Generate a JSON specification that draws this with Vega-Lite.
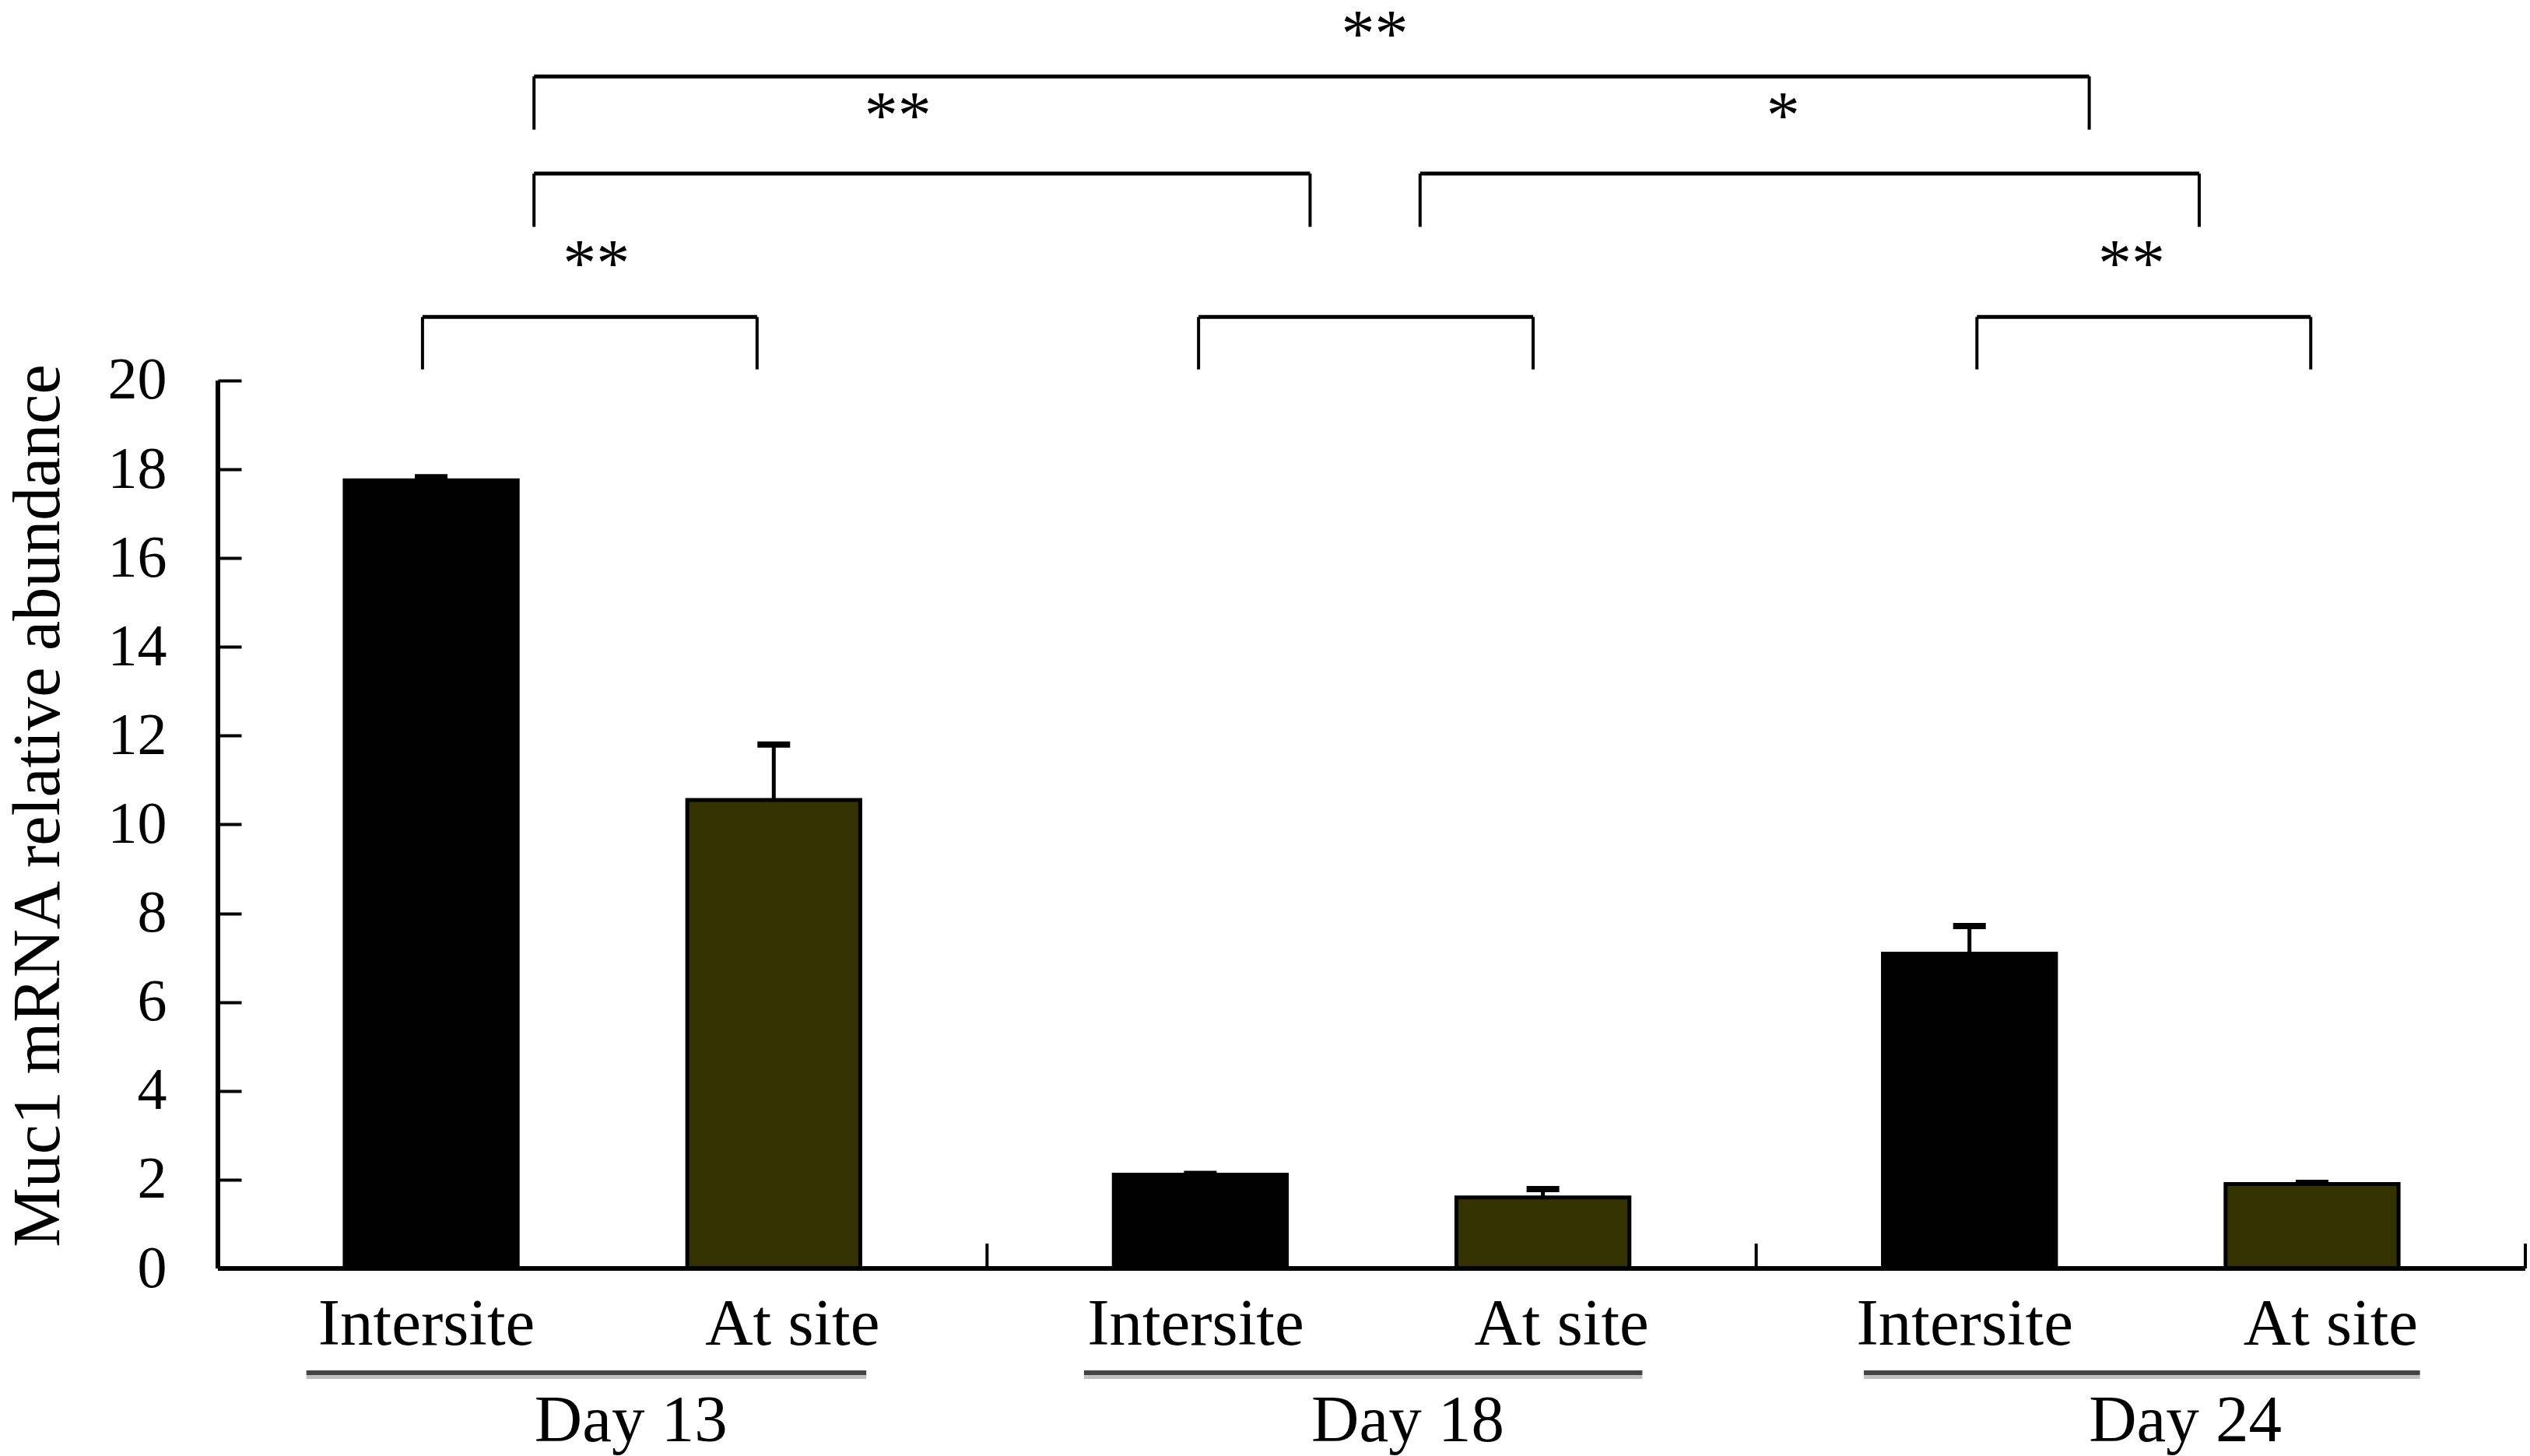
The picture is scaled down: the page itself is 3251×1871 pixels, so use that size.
{
  "$schema": "https://vega.github.io/schema/vega-lite/v6.json",
  "width": 2965,
  "height": 1630,
  "autosize": {"type": "none"},
  "padding": {"left": 280, "top": 0, "right": 6, "bottom": 241},
  "background": "white",
  "config": {
    "view": {"stroke": null},
    "font": "Liberation Serif",
    "axisY": {
      "domain": false, "grid": false,
      "tickSize": -30, "tickWidth": 4, "tickColor": "black",
      "labelFont": "Liberation Serif", "labelFontSize": 76, "labelColor": "black", "labelPadding": 96,
      "titleFont": "Liberation Serif", "titleFontSize": 86, "titleFontWeight": "normal", "titleColor": "black",
      "titleX": -205, "titleY": 1035, "titleBaseline": "alphabetic"
    }
  },
  "datasets": {
    "bars": [
      {"day": "Day 13", "site": "Intersite", "value": 17.75, "upper": 17.82},
      {"day": "Day 13", "site": "At site", "value": 10.55, "upper": 11.8},
      {"day": "Day 18", "site": "Intersite", "value": 2.11, "upper": 2.13},
      {"day": "Day 18", "site": "At site", "value": 1.6, "upper": 1.79},
      {"day": "Day 24", "site": "Intersite", "value": 7.09, "upper": 7.71},
      {"day": "Day 24", "site": "At site", "value": 1.9, "upper": 1.93}
    ],
    "groups": [
      {"day": "Day 13", "end": 1, "lineStart": 0.115, "lineEnd": 0.843, "labelX": 0.537},
      {"day": "Day 18", "end": 2, "lineStart": 1.126, "lineEnd": 1.852, "labelX": 1.547},
      {"day": "Day 24", "end": 3, "lineStart": 2.14, "lineEnd": 2.863, "labelX": 2.558}
    ],
    "brackets": [
      {"id": "d13", "x1": 0.266, "x2": 0.701, "top": 21.43, "bottom": 20.25},
      {"id": "d18", "x1": 1.275, "x2": 1.71, "top": 21.43, "bottom": 20.25},
      {"id": "d24", "x1": 2.287, "x2": 2.721, "top": 21.43, "bottom": 20.25},
      {"id": "13v18", "x1": 0.411, "x2": 1.42, "top": 24.66, "bottom": 23.46},
      {"id": "18v24", "x1": 1.563, "x2": 2.576, "top": 24.66, "bottom": 23.46},
      {"id": "13v24", "x1": 0.411, "x2": 2.433, "top": 26.85, "bottom": 25.65}
    ],
    "stars": [
      {"text": "**", "x": 0.492, "y": 22.14},
      {"text": "**", "x": 2.488, "y": 22.14},
      {"text": "**", "x": 0.884, "y": 25.47},
      {"text": "*", "x": 2.035, "y": 25.47},
      {"text": "**", "x": 1.504, "y": 27.3}
    ]
  },
  "resolve": {"scale": {"x": "independent", "xOffset": "independent"}},
  "layer": [
    {
      "data": {"name": "bars"},
      "encoding": {
        "x": {"field": "day", "type": "nominal", "sort": ["Day 13", "Day 18", "Day 24"], "scale": {"type": "band", "paddingInner": 0, "paddingOuter": 0}, "axis": null},
        "xOffset": {"field": "site", "type": "nominal", "sort": ["Intersite", "At site"], "scale": {"paddingInner": 0.495, "paddingOuter": 0.37}}
      },
      "layer": [
        {
          "mark": {"type": "bar", "stroke": "black", "strokeWidth": 5},
          "encoding": {
            "y": {"field": "value", "type": "quantitative", "title": "Muc1 mRNA relative abundance",
              "scale": {"domain": [0, 28.57], "nice": false, "zero": true},
              "axis": {"values": [0, 2, 4, 6, 8, 10, 12, 14, 16, 18, 20], "format": "d"}},
            "color": {"field": "site", "type": "nominal", "scale": {"domain": ["Intersite", "At site"], "range": ["#000000", "#333300"]}, "legend": null}
          }
        },
        {
          "mark": {"type": "rule", "color": "black", "strokeWidth": 5},
          "encoding": {
            "y": {"field": "value", "type": "quantitative", "title": "Muc1 mRNA relative abundance", "scale": {"domain": [0, 28.57], "nice": false, "zero": true}, "axis": {"values": [0, 2, 4, 6, 8, 10, 12, 14, 16, 18, 20], "format": "d"}},
            "y2": {"field": "upper"}
          }
        },
        {
          "mark": {"type": "tick", "color": "black", "size": 42, "thickness": 8, "opacity": 1},
          "encoding": {
            "y": {"field": "upper", "type": "quantitative", "title": "Muc1 mRNA relative abundance", "scale": {"domain": [0, 28.57], "nice": false, "zero": true}, "axis": {"values": [0, 2, 4, 6, 8, 10, 12, 14, 16, 18, 20], "format": "d"}}
          }
        },
        {
          "transform": [{"filter": "datum.site === 'Intersite'"}],
          "mark": {"type": "text", "font": "Liberation Serif", "fontSize": 85, "color": "black", "baseline": "alphabetic", "align": "center", "dy": 98, "dx": -6},
          "encoding": {
            "y": {"datum": 0, "type": "quantitative", "title": "Muc1 mRNA relative abundance", "scale": {"domain": [0, 28.57], "nice": false, "zero": true}, "axis": {"values": [0, 2, 4, 6, 8, 10, 12, 14, 16, 18, 20], "format": "d"}},
            "text": {"field": "site"}
          }
        },
        {
          "transform": [{"filter": "datum.site === 'At site'"}],
          "mark": {"type": "text", "font": "Liberation Serif", "fontSize": 85, "color": "black", "baseline": "alphabetic", "align": "center", "dy": 98, "dx": 24},
          "encoding": {
            "y": {"datum": 0, "type": "quantitative", "title": "Muc1 mRNA relative abundance", "scale": {"domain": [0, 28.57], "nice": false, "zero": true}, "axis": {"values": [0, 2, 4, 6, 8, 10, 12, 14, 16, 18, 20], "format": "d"}},
            "text": {"field": "site"}
          }
        }
      ]
    },
    {
      "layer": [
        {
          "data": {"values": [{}]},
          "mark": {"type": "rule", "color": "black", "strokeWidth": 6},
          "encoding": {
            "x": {"datum": 0, "type": "quantitative", "scale": {"domain": [0, 3], "nice": false, "zero": false}, "axis": null},
            "x2": {"datum": 3},
            "y": {"datum": 0, "type": "quantitative", "title": "Muc1 mRNA relative abundance", "scale": {"domain": [0, 28.57], "nice": false, "zero": true}, "axis": {"values": [0, 2, 4, 6, 8, 10, 12, 14, 16, 18, 20], "format": "d"}}
          }
        },
        {
          "data": {"values": [{}]},
          "mark": {"type": "rule", "color": "black", "strokeWidth": 6},
          "encoding": {
            "x": {"datum": 0, "type": "quantitative", "scale": {"domain": [0, 3], "nice": false, "zero": false}, "axis": null},
            "y": {"datum": 0, "type": "quantitative", "title": "Muc1 mRNA relative abundance", "scale": {"domain": [0, 28.57], "nice": false, "zero": true}, "axis": {"values": [0, 2, 4, 6, 8, 10, 12, 14, 16, 18, 20], "format": "d"}},
            "y2": {"datum": 20}
          }
        },
        {
          "data": {"name": "groups"},
          "mark": {"type": "rule", "color": "black", "strokeWidth": 4},
          "encoding": {
            "x": {"field": "end", "type": "quantitative", "scale": {"domain": [0, 3], "nice": false, "zero": false}, "axis": null},
            "y": {"datum": 0, "type": "quantitative", "title": "Muc1 mRNA relative abundance", "scale": {"domain": [0, 28.57], "nice": false, "zero": true}, "axis": {"values": [0, 2, 4, 6, 8, 10, 12, 14, 16, 18, 20], "format": "d"}},
            "y2": {"datum": 0.56}
          }
        },
        {
          "data": {"name": "groups"},
          "mark": {"type": "rule", "color": "#444444", "strokeWidth": 6, "yOffset": 134},
          "encoding": {
            "x": {"field": "lineStart", "type": "quantitative", "scale": {"domain": [0, 3], "nice": false, "zero": false}, "axis": null},
            "x2": {"field": "lineEnd"},
            "y": {"datum": 0, "type": "quantitative", "title": "Muc1 mRNA relative abundance", "scale": {"domain": [0, 28.57], "nice": false, "zero": true}, "axis": {"values": [0, 2, 4, 6, 8, 10, 12, 14, 16, 18, 20], "format": "d"}}
          }
        },
        {
          "data": {"name": "groups"},
          "mark": {"type": "rule", "color": "#c0c0c0", "strokeWidth": 5, "yOffset": 139.5},
          "encoding": {
            "x": {"field": "lineStart", "type": "quantitative", "scale": {"domain": [0, 3], "nice": false, "zero": false}, "axis": null},
            "x2": {"field": "lineEnd"},
            "y": {"datum": 0, "type": "quantitative", "title": "Muc1 mRNA relative abundance", "scale": {"domain": [0, 28.57], "nice": false, "zero": true}, "axis": {"values": [0, 2, 4, 6, 8, 10, 12, 14, 16, 18, 20], "format": "d"}}
          }
        },
        {
          "data": {"name": "groups"},
          "mark": {"type": "text", "font": "Liberation Serif", "fontSize": 85, "color": "black", "baseline": "alphabetic", "align": "center", "dy": 222},
          "encoding": {
            "x": {"field": "labelX", "type": "quantitative", "scale": {"domain": [0, 3], "nice": false, "zero": false}, "axis": null},
            "y": {"datum": 0, "type": "quantitative", "title": "Muc1 mRNA relative abundance", "scale": {"domain": [0, 28.57], "nice": false, "zero": true}, "axis": {"values": [0, 2, 4, 6, 8, 10, 12, 14, 16, 18, 20], "format": "d"}},
            "text": {"field": "day"}
          }
        },
        {
          "data": {"name": "brackets"},
          "mark": {"type": "rule", "color": "black", "strokeWidth": 5},
          "encoding": {
            "x": {"field": "x1", "type": "quantitative", "scale": {"domain": [0, 3], "nice": false, "zero": false}, "axis": null},
            "x2": {"field": "x2"},
            "y": {"field": "top", "type": "quantitative", "title": "Muc1 mRNA relative abundance", "scale": {"domain": [0, 28.57], "nice": false, "zero": true}, "axis": {"values": [0, 2, 4, 6, 8, 10, 12, 14, 16, 18, 20], "format": "d"}}
          }
        },
        {
          "data": {"name": "brackets"},
          "mark": {"type": "rule", "color": "black", "strokeWidth": 4},
          "encoding": {
            "x": {"field": "x1", "type": "quantitative", "scale": {"domain": [0, 3], "nice": false, "zero": false}, "axis": null},
            "y": {"field": "top", "type": "quantitative", "title": "Muc1 mRNA relative abundance", "scale": {"domain": [0, 28.57], "nice": false, "zero": true}, "axis": {"values": [0, 2, 4, 6, 8, 10, 12, 14, 16, 18, 20], "format": "d"}},
            "y2": {"field": "bottom"}
          }
        },
        {
          "data": {"name": "brackets"},
          "mark": {"type": "rule", "color": "black", "strokeWidth": 4},
          "encoding": {
            "x": {"field": "x2", "type": "quantitative", "scale": {"domain": [0, 3], "nice": false, "zero": false}, "axis": null},
            "y": {"field": "top", "type": "quantitative", "title": "Muc1 mRNA relative abundance", "scale": {"domain": [0, 28.57], "nice": false, "zero": true}, "axis": {"values": [0, 2, 4, 6, 8, 10, 12, 14, 16, 18, 20], "format": "d"}},
            "y2": {"field": "bottom"}
          }
        },
        {
          "data": {"name": "stars"},
          "mark": {"type": "text", "font": "Liberation Serif", "fontSize": 86, "color": "black", "baseline": "alphabetic", "align": "center"},
          "encoding": {
            "x": {"field": "x", "type": "quantitative", "scale": {"domain": [0, 3], "nice": false, "zero": false}, "axis": null},
            "y": {"field": "y", "type": "quantitative", "title": "Muc1 mRNA relative abundance", "scale": {"domain": [0, 28.57], "nice": false, "zero": true}, "axis": {"values": [0, 2, 4, 6, 8, 10, 12, 14, 16, 18, 20], "format": "d"}},
            "text": {"field": "text"}
          }
        }
      ]
    }
  ]
}
